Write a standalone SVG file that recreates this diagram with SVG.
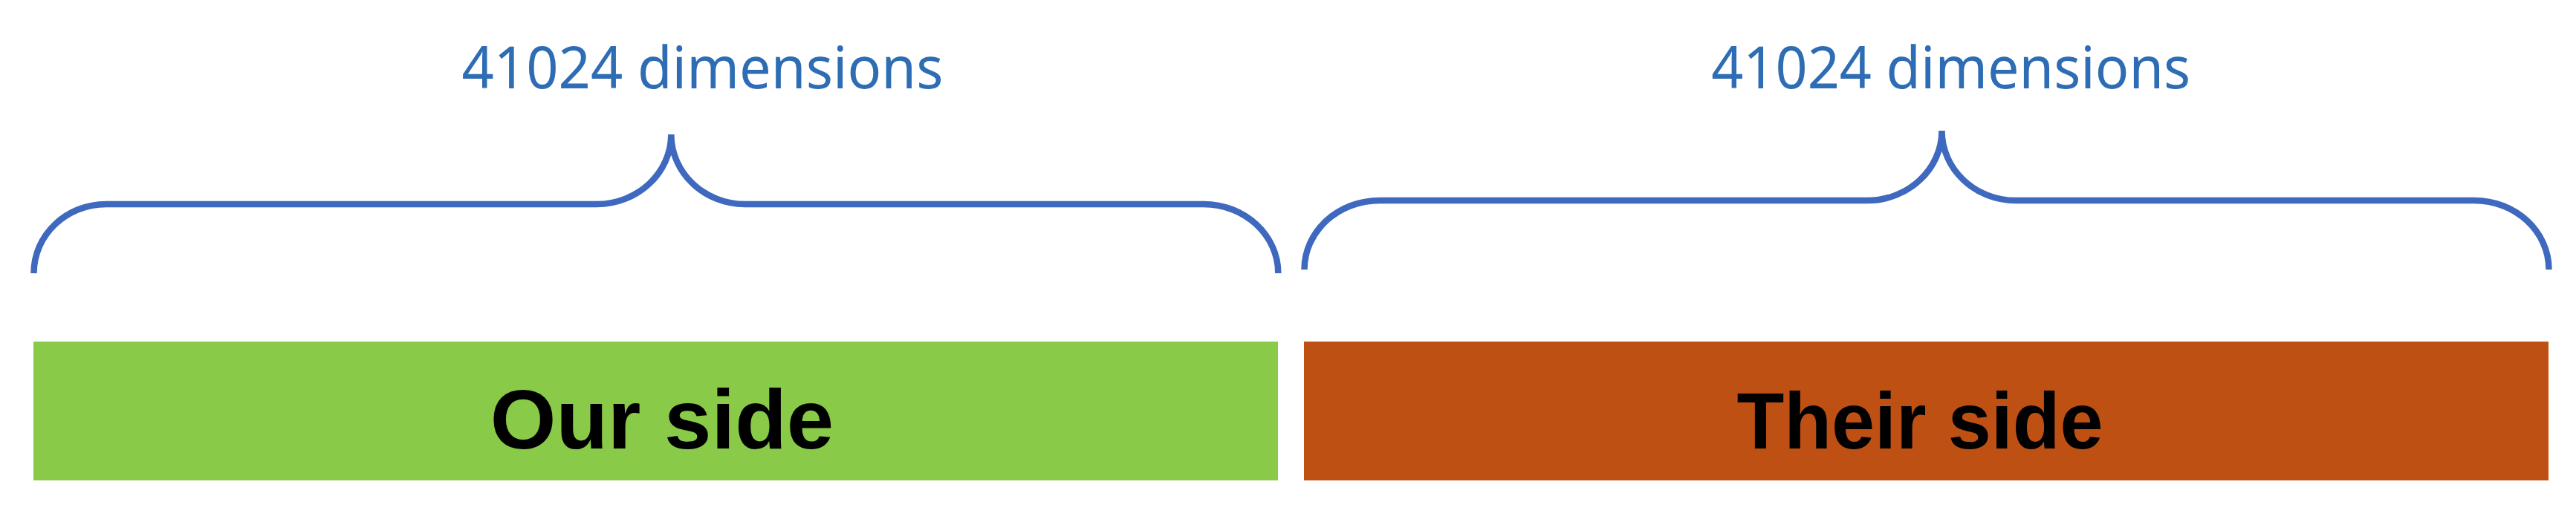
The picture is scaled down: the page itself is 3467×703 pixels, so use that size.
<svg xmlns="http://www.w3.org/2000/svg" width="3467" height="703" viewBox="0 0 3467 703">
<style>
.brace{fill:none;stroke:#3E69BE;stroke-width:8.5;stroke-linecap:butt;stroke-linejoin:miter}
.dim{font-family:"Noto Sans","Open Sans","Liberation Sans",sans-serif;font-size:79px;fill:#2E6DB4;text-anchor:middle}
.lbl{font-family:"Liberation Sans",Arial,sans-serif;font-weight:bold;fill:#000;text-anchor:middle}
</style>
<rect width="3467" height="703" fill="#FFFFFF"/>
<g id="our-side">
<rect x="45" y="460" width="1675" height="187" fill="#89CA48"/>
<text class="lbl" x="891" y="603.5" font-size="114">Our side</text>
</g>
<g id="their-side">
<rect x="1755" y="460" width="1675" height="187" fill="#BE5014"/>
<text class="lbl" x="2584" y="603.5" font-size="108" textLength="493" lengthAdjust="spacingAndGlyphs">Their side</text>
</g>
<g id="our-brace">
<path class="brace" d="M45.5 368 C45.5 316.6 88.9 275 143 275 L803 275 C858 275 903.3 233 903.3 181 C903.3 233 948 275 1003 275 L1620 275 C1675 275 1720.3 316.6 1720.3 368"/>
<text class="dim" x="945.5" y="118.5" textLength="648" lengthAdjust="spacingAndGlyphs">41024 dimensions</text>
</g>
<g id="their-brace">
<path class="brace" d="M1755.5 363 C1755.5 311.6 1800.8 270 1857 270 L2513 270 C2568 270 2613.5 228 2613.5 176 C2613.5 228 2658 270 2713 270 L3330 270 C3385.5 270 3430.5 311.6 3430.5 363"/>
<text class="dim" x="2625.7" y="118.5" textLength="645" lengthAdjust="spacingAndGlyphs">41024 dimensions</text>
</g>
<g id="connectors"></g>
</svg>
